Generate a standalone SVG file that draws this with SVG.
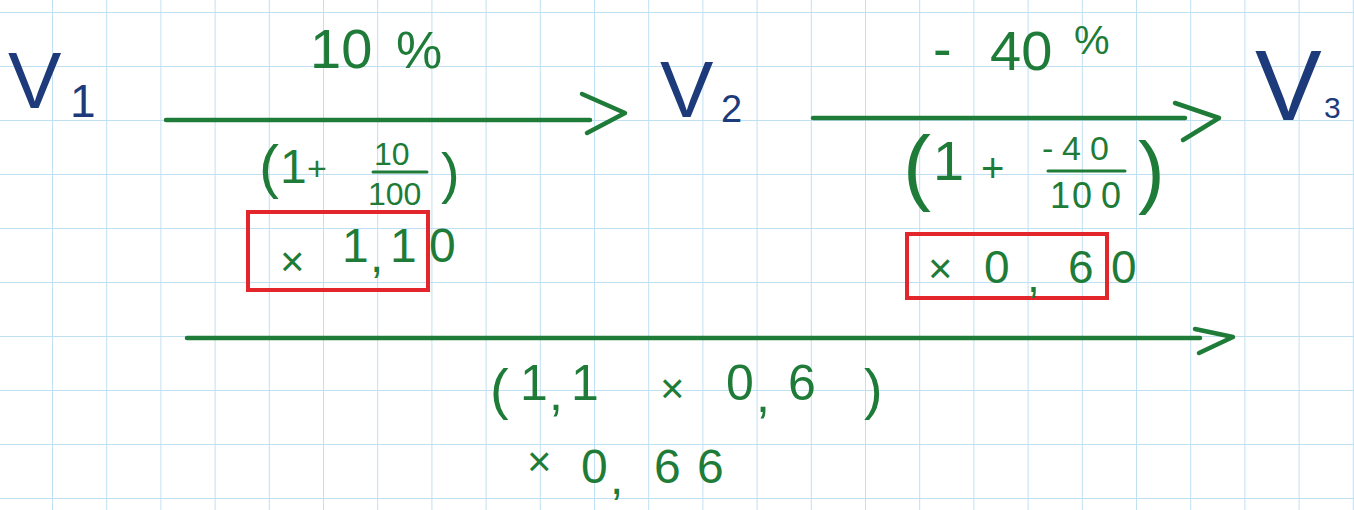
<svg xmlns="http://www.w3.org/2000/svg" width="1354" height="510" viewBox="0 0 1354 510">
  <defs>
    <pattern id="grid" patternUnits="userSpaceOnUse" x="52" y="12" width="54.2" height="54">
      <path d="M0 0 V54 M0 0 H54.2" fill="none" stroke="#bfdff2" stroke-width="2"/>
    </pattern>
    <style>
      .g { fill: #1e7c38; font-family: "Liberation Sans", Arial, sans-serif; }
      .b { fill: #1d3b7a; font-family: "Liberation Sans", Arial, sans-serif; }
      .ln { stroke: #1e7c38; stroke-width: 4.5; stroke-linecap: round; fill: none; stroke-linejoin: round; }
      .bar { stroke: #1e7c38; stroke-width: 3; stroke-linecap: round; }
      .box { fill: none; stroke: #e3262b; stroke-width: 4; }
    </style>
  </defs>
  <rect width="1354" height="510" fill="#ffffff"/>
  <rect width="1354" height="510" fill="url(#grid)"/>

  <g id="connectors">
    <g id="arrow-v1-v2">
      <path class="ln" d="M166 120 H590"/>
      <path class="ln" d="M582 94 L625 113 L587 133"/>
    </g>
    <g id="arrow-v2-v3">
      <path class="ln" d="M813 118 H1185"/>
      <path class="ln" d="M1175 103 L1219 118 L1183 140"/>
    </g>
    <g id="arrow-v1-v3">
      <path class="ln" d="M187 338 H1200"/>
      <path class="ln" d="M1195 329 L1233 337 L1199 353"/>
    </g>
  </g>

  <g id="node-v1">
    <text class="b" x="8" y="108" font-size="80">V</text>
    <text class="b" x="70" y="117" font-size="46">1</text>
  </g>
  <g id="node-v2">
    <text class="b" x="660" y="117" font-size="80">V</text>
    <text class="b" x="721" y="122" font-size="38">2</text>
  </g>
  <g id="node-v3">
    <text class="b" x="1255" y="120" font-size="100">V</text>
    <text class="b" x="1324" y="118" font-size="30">3</text>
  </g>

  <g id="label-10pct">
    <text class="g" x="310" y="68" font-size="56">10</text>
    <text class="g" x="396" y="68" font-size="52">%</text>
  </g>

  <g id="label-minus40pct">
    <text class="g" font-size="56"><tspan x="933" y="68">-</tspan><tspan x="990" y="70">40</tspan></text>
    <text class="g" x="1074" y="54" font-size="40">%</text>
  </g>

  <g id="formula-1">
    <text class="g" x="259" y="187" font-size="60">(</text>
    <text class="g" x="280" y="183" font-size="48">1</text>
    <text class="g" x="307" y="180" font-size="34">+</text>
    <text class="g" x="374" y="165" font-size="32">10</text>
    <line class="bar" x1="373" y1="172" x2="427" y2="172"/>
    <text class="g" x="368" y="205" font-size="32">100</text>
    <text class="g" x="441" y="192" font-size="56">)</text>
  </g>

  <g id="result-1">
    <rect class="box" x="248" y="212" width="180" height="78"/>
    <text class="g" font-size="48"><tspan x="280" y="276" font-size="42">×</tspan><tspan x="342" y="262">1</tspan><tspan x="370" y="272">,</tspan><tspan x="390" y="262">1</tspan><tspan x="429" y="262">0</tspan></text>
  </g>

  <g id="formula-2">
    <text class="g" x="903" y="195" font-size="84">(</text>
    <text class="g" x="933" y="180" font-size="56">1</text>
    <text class="g" x="981" y="182" font-size="40">+</text>
    <text class="g" font-size="34"><tspan x="1042" y="160">-</tspan><tspan x="1062" y="160">4</tspan><tspan x="1090" y="160">0</tspan></text>
    <line class="bar" x1="1048" y1="171" x2="1125" y2="171"/>
    <text class="g" font-size="36"><tspan x="1050" y="208">1</tspan><tspan x="1072" y="208">0</tspan><tspan x="1101" y="208">0</tspan></text>
    <text class="g" x="1138" y="198" font-size="80">)</text>
  </g>

  <g id="result-2">
    <rect class="box" x="907" y="234" width="200" height="64"/>
    <text class="g" font-size="46"><tspan x="928" y="283" font-size="42">×</tspan><tspan x="984" y="283">0</tspan><tspan x="1027" y="292">,</tspan><tspan x="1068" y="283">6</tspan><tspan x="1111" y="283">0</tspan></text>
  </g>

  <g id="formula-3">
    <text class="g" x="490" y="408" font-size="56">(</text>
    <text class="g" font-size="50"><tspan x="520" y="400">1</tspan><tspan x="549" y="410">,</tspan><tspan x="571" y="400">1</tspan><tspan x="660" y="403" font-size="42">×</tspan><tspan x="726" y="400">0</tspan><tspan x="756" y="412">,</tspan><tspan x="788" y="400">6</tspan></text>
    <text class="g" x="864" y="408" font-size="56">)</text>
  </g>

  <g id="result-3">
    <text class="g" font-size="48"><tspan x="527" y="476" font-size="42">×</tspan><tspan x="581" y="483">0</tspan><tspan x="610" y="494">,</tspan><tspan x="654" y="483">6</tspan><tspan x="697" y="483">6</tspan></text>
  </g>
</svg>
